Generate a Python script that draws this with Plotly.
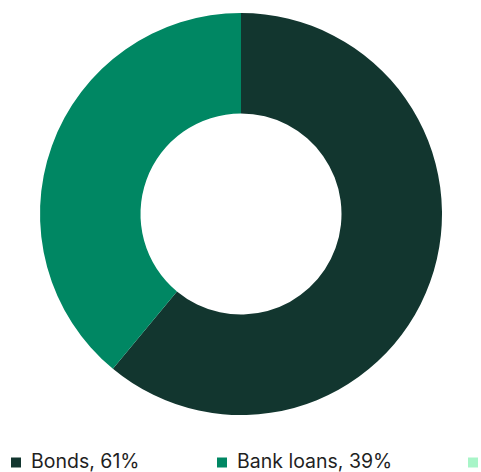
import plotly.graph_objects as go

# Funding mix
labels = ["Bonds", "Bank loans", "Other"]
values = [61, 39, 0]
colors = ["#12362f", "#008763", "#a8f5c8"]

W, H = 481, 472

fig = go.Figure(
    go.Pie(
        labels=labels,
        values=values,
        hole=0.5,
        sort=False,
        direction="clockwise",
        rotation=0,
        marker=dict(colors=colors, line=dict(width=0)),
        textinfo="none",
        hoverinfo="label+percent",
        showlegend=False,
        domain=dict(x=[40 / W, 442 / W], y=[1 - 416 / H, 1 - 12 / H]),
    )
)

# Legend row along the bottom edge
legend_x = [11, 217, 468]
sq = 10
sq_mid = 462.5
text_mid = 461
for lab, val, col, x0 in zip(labels, values, colors, legend_x):
    fig.add_shape(
        type="rect", xref="paper", yref="paper",
        x0=x0 / W, x1=(x0 + sq) / W,
        y0=1 - (sq_mid + sq / 2) / H, y1=1 - (sq_mid - sq / 2) / H,
        fillcolor=col, line=dict(width=0),
    )
    tx = x0 + sq + 8
    if tx + 20 > W:
        continue  # label would fall outside the page
    fig.add_annotation(
        x=tx / W, y=1 - text_mid / H, xref="paper", yref="paper",
        xanchor="left", yanchor="middle", showarrow=False,
        text=f"{lab}, {val}%",
        font=dict(family="Inter", size=19.5, color="#1f1f1f"),
    )

fig.update_layout(
    width=W, height=H,
    margin=dict(l=0, r=0, t=0, b=0),
    paper_bgcolor="white", plot_bgcolor="white",
)

fig.write_html("out.html")
